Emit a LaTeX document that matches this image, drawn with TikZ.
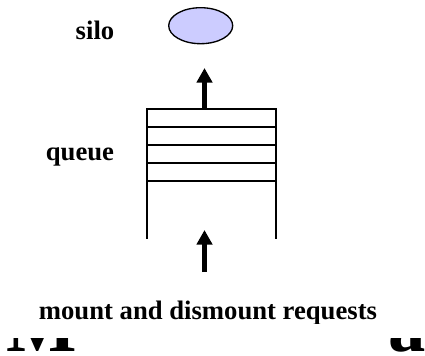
\documentclass[tikz,border=0pt]{standalone}
\usepackage{fontspec}
\setmainfont{Liberation Serif}
\usetikzlibrary{arrows.meta,shapes.geometric}
\tikzset{
  lbl/.style={font=\bfseries\fontsize{20}{24}\selectfont,inner sep=0pt,text=black},
  big/.style={font=\bfseries\fontsize{56}{64}\selectfont,inner sep=0pt,anchor=base,text=black},
  stackline/.style={draw=black,line width=1pt},
  fatarrow/.style={draw=black,line width=3.6pt,-{Triangle[width=11.5pt,length=11pt]}}
}
\begin{document}
\begin{tikzpicture}[x=0.75pt,y=-0.75pt]
\useasboundingbox (0,0) rectangle (425,356);
\fill[white] (0,0) rectangle (425,356);
\node[draw=black,fill=blue!20,line width=1pt,ellipse,minimum width=48pt,minimum height=27pt,inner sep=0pt] (silo) at (200.7,25.7) {};
\node[lbl] (silolbl) at (95,30) {silo};
\node[lbl] (queuelbl) at (80,157) {queue};
\node[lbl] (req) at (208,313) {mount and dismount requests};
\coordinate (tl) at (147,109); \coordinate (tr) at (276,109);
\coordinate (bl) at (147,239); \coordinate (br) at (276,239);
\draw[stackline] (bl) -- (tl) -- (tr) -- (br);
\foreach \y in {127,145,163,181} \draw[stackline] (147,\y) -- (276,\y);
\coordinate (a1s) at (204.5,109); \coordinate (a1e) at (204.5,68);
\coordinate (a2s) at (204.5,272); \coordinate (a2e) at (204.5,230);
\draw[fatarrow] (a1s) -- (a1e);
\draw[fatarrow] (a2s) -- (a2e);
\begin{scope}
\clip (0,338) rectangle (425,356);
\node[big] (m) at (41.5,351.5) {M};
\node[big] (d) at (407,351.5) {a};
\end{scope}
\fill[white] (0,324) rectangle (425,338);
\end{tikzpicture}
\end{document}
